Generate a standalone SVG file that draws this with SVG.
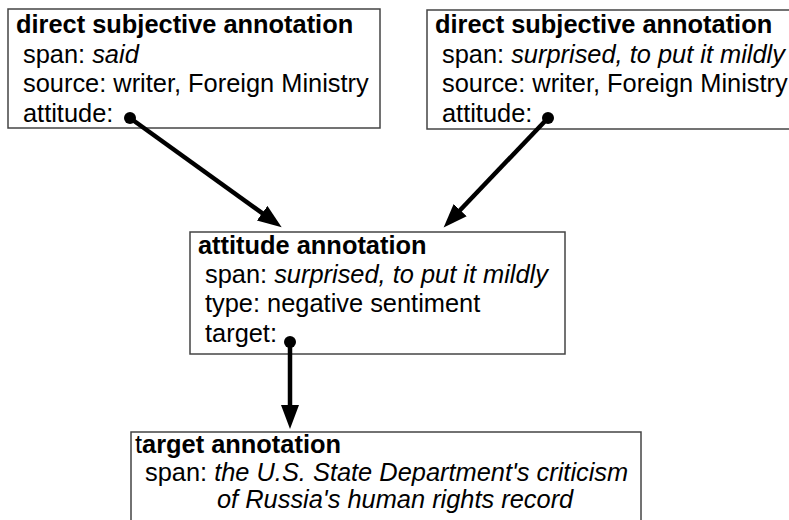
<svg xmlns="http://www.w3.org/2000/svg" width="789" height="520" viewBox="0 0 789 520">
  <style>
    text { font-family: "Liberation Sans", Arial, sans-serif; font-size: 25.4px; fill: #000; }
    .title { font-weight: bold; }
    .it { font-style: italic; }
    .box { fill: #fff; stroke: #444; stroke-width: 1.5; }
    .link { stroke: #000; stroke-width: 4.5; fill: none; marker-end: url(#head); }
    .dot { fill: #000; }
  </style>
  <defs>
    <marker id="head" markerUnits="userSpaceOnUse" markerWidth="26" markerHeight="20" refX="12" refY="9" orient="auto">
      <path d="M0,0 L24,9 L0,18 Z" fill="#000"/>
    </marker>
  </defs>

  <rect width="789" height="520" fill="#fff"/>

  <g id="ds-said">
    <rect class="box" x="8" y="9" width="372" height="119"/>
    <text class="title" x="16" y="33">direct subjective annotation</text>
    <text x="23" y="63">span: <tspan class="it">said</tspan></text>
    <text x="23" y="92">source: writer, Foreign Ministry</text>
    <text x="23" y="122">attitude:</text>
  </g>

  <g id="ds-surprised">
    <rect class="box" x="427" y="10" width="370" height="119"/>
    <text class="title" x="435" y="33">direct subjective annotation</text>
    <text x="442" y="63">span: <tspan class="it">surprised, to put it mildly</tspan></text>
    <text x="442" y="92">source: writer, Foreign Ministry</text>
    <text x="442" y="122">attitude:</text>
  </g>

  <g id="attitude">
    <rect class="box" x="190" y="232" width="375" height="122"/>
    <text class="title" x="198" y="254">attitude annotation</text>
    <text x="205" y="283">span: <tspan class="it">surprised, to put it mildly</tspan></text>
    <text x="205" y="312">type: negative sentiment</text>
    <text x="205" y="342">target:</text>
  </g>

  <g id="target">
    <rect class="box" x="131" y="432" width="510" height="100"/>
    <text x="135" y="453">t<tspan class="title">arget annotation</tspan></text>
    <text x="145" y="481">span: <tspan class="it">the U.S. State Department's criticism</tspan></text>
    <text class="it" x="217" y="508">of Russia's human rights record</text>
  </g>

  <g id="connectors">
    <circle class="dot" cx="130" cy="118" r="6"/>
    <line class="link" x1="130" y1="118" x2="271.9" y2="220.2"/>
    <circle class="dot" cx="548" cy="118" r="6"/>
    <line class="link" x1="548" y1="118" x2="451.9" y2="218.8"/>
    <circle class="dot" cx="290" cy="342" r="6"/>
    <line class="link" x1="290" y1="342" x2="290" y2="417"/>
  </g>
</svg>
